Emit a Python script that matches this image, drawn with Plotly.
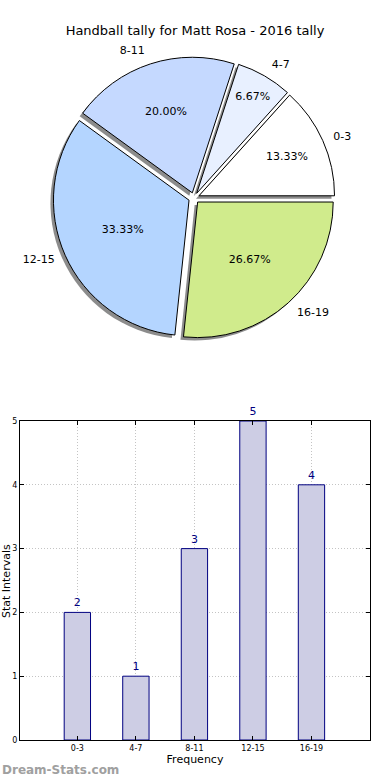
import plotly.graph_objects as go

categories = ["0-3", "4-7", "8-11", "12-15", "16-19"]
counts = [2, 1, 3, 5, 4]
slice_colors = ["#ffffff", "#e8f0ff", "#c5d9ff", "#b4d5ff", "#d0eb8c"]
pulls = [0.04, 0.04, 0.04, 0.04, 0.04]
title_text = "Handball tally for Matt Rosa - 2016 tally"

W, H = 390, 780

def px_x(v):
    return v / W

def px_y(v):
    return 1 - v / H

cx, cy, half = 194, 198, 141

def dom(h, dx=0, dy=0):
    return dict(x=[px_x(cx - h + dx), px_x(cx + h + dx)], y=[px_y(cy + h + dy), px_y(cy - h + dy)])

rot = 42
fig = go.Figure()

# shadow
fig.add_trace(go.Pie(
    labels=categories, values=counts, sort=False, direction="counterclockwise", rotation=rot,
    pull=pulls, marker=dict(colors=["rgba(0,0,0,0.45)"] * 5, line=dict(width=0)),
    textinfo="none", hoverinfo="skip", showlegend=False, domain=dom(half, -3, 3),
))
# main pie with percentages
fig.add_trace(go.Pie(
    labels=categories, values=counts, sort=False, direction="counterclockwise", rotation=rot,
    pull=pulls, marker=dict(colors=slice_colors, line=dict(color="#000000", width=1)),
    texttemplate="%{percent:.2%}", textposition="inside", insidetextorientation="horizontal",
    textfont=dict(family="DejaVu Sans", size=11, color="#000000"),
    showlegend=False, domain=dom(half),
))
# outer labels (transparent ring so labels sit a little further out)
fig.add_trace(go.Pie(
    labels=categories, values=counts, sort=False, direction="counterclockwise", rotation=rot,
    pull=pulls, marker=dict(colors=["rgba(0,0,0,0)"] * 5, line=dict(width=0)),
    texttemplate="%{label}", textposition="outside",
    textfont=dict(family="DejaVu Sans", size=11, color="#000000"),
    hoverinfo="skip", showlegend=False, domain=dom(half + 8),
))

fig.add_trace(go.Bar(
    x=list(range(len(categories))), y=counts, width=0.45,
    marker=dict(color="#cdcde4", line=dict(color="#000080", width=1)),
    text=[str(c) for c in counts], textposition="outside", cliponaxis=False,
    textfont=dict(family="DejaVu Sans", size=11, color="#000080"),
    xaxis="x", yaxis="y", showlegend=False,
))

axis_common = dict(
    showline=True, linecolor="#000000", linewidth=1, mirror="ticks",
    ticks="inside", ticklen=4, tickcolor="#000000",
    showgrid=True, gridcolor="#c4c4c4", griddash="1px,2px", gridwidth=1,
    zeroline=False, tickfont=dict(family="DejaVu Sans", size=8, color="#000000"),
    automargin=False,
)

fig.update_layout(
    width=W, height=H, margin=dict(l=0, r=0, t=0, b=0, autoexpand=False),
    paper_bgcolor="#ffffff", plot_bgcolor="#ffffff",
    font=dict(family="DejaVu Sans", color="#000000"),
    title=dict(text=title_text, x=px_x(195), xanchor="center", y=px_y(30), yanchor="middle",
               font=dict(family="DejaVu Sans", size=13, color="#000000")),
    xaxis=dict(domain=[px_x(20), px_x(370)], range=[-0.98, 5.0],
               tickmode="array", tickvals=list(range(len(categories))), ticktext=categories,
               title=dict(text="Frequency", font=dict(family="DejaVu Sans", size=11), standoff=2),
               anchor="y", **axis_common),
    yaxis=dict(domain=[px_y(740), px_y(421)], range=[0, 5], dtick=1,
               anchor="x", **axis_common),
    annotations=[
        dict(text="<b>Dream-Stats.com</b>", x=px_x(0), y=px_y(770), xref="paper", yref="paper",
             xanchor="left", yanchor="middle", showarrow=False,
             font=dict(family="DejaVu Sans", size=12, color="#a0a0a0")),
        dict(text="Stat Intervals", x=px_x(6), y=px_y(581), xref="paper", yref="paper",
             xanchor="center", yanchor="middle", textangle=-90, showarrow=False,
             font=dict(family="DejaVu Sans", size=11, color="#000000")),
    ],
)

fig.write_html("out.html", config={"displayModeBar": False},
               post_script="document.body.style.margin='0';document.body.style.padding='0';")
